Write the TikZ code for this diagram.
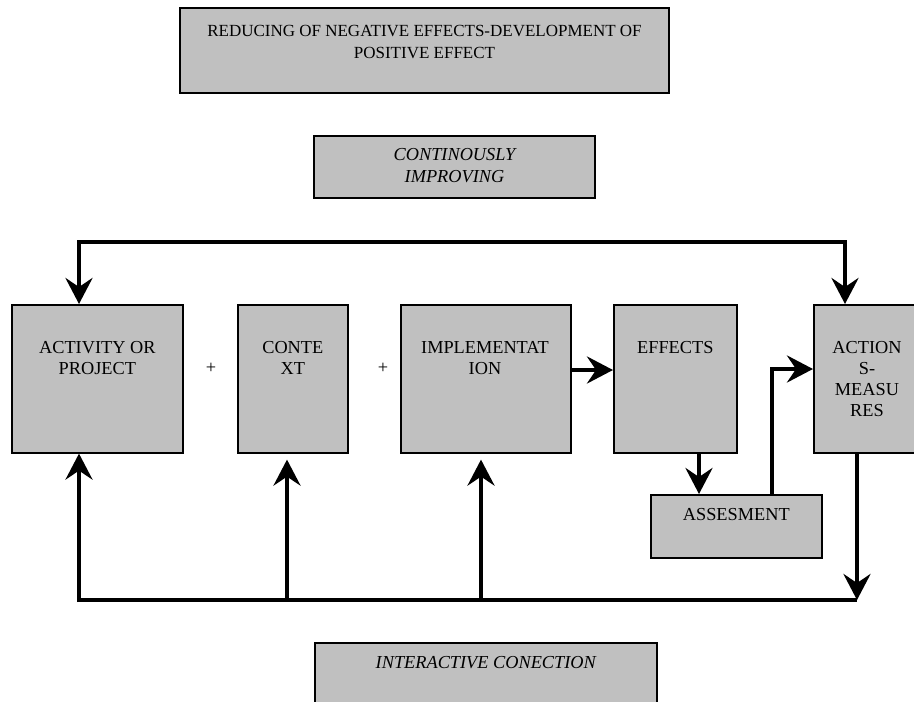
\documentclass[tikz,border=0pt]{standalone}
\usepackage{fontspec}
\setmainfont{Liberation Serif}
\usetikzlibrary{arrows.meta,calc}
\definecolor{boxgray}{HTML}{C0C0C0}
\tikzset{
  gbox/.style={draw=black, line width=1.6pt, fill=boxgray},
  lbl/.style={anchor=base, align=center, inner sep=0pt, font=\fontsize{18.3}{21}\selectfont},
  ilbl/.style={lbl, font=\fontsize{18.3}{22}\selectfont\itshape},
  tlbl/.style={lbl, font=\fontsize{17}{22}\selectfont},
  conn/.style={line width=4pt, line cap=butt, line join=miter},
  arr/.style={conn, -{Stealth[length=26pt, width=27pt, inset=9pt]}}
}
\begin{document}
\begin{tikzpicture}[x=1pt,y=-1pt]
\useasboundingbox (0,0) rectangle (914,702);
% boxes
\draw[gbox] (180,8) rectangle (669,93);
\node[tlbl] (ttl) at (424.5,58) {REDUCING OF NEGATIVE EFFECTS-DEVELOPMENT OF\\POSITIVE EFFECT};
\draw[gbox] (314,136) rectangle (595,198);
\node[ilbl] (cimp) at (454.5,182) {CONTINOUSLY\\IMPROVING};

\node[gbox, minimum width=171pt, minimum height=148pt, anchor=north west, inner sep=0pt] (act) at (11,304) {};
\node[gbox, minimum width=110pt, minimum height=148pt, anchor=north west, inner sep=0pt] (ctx) at (237,304) {};
\node[gbox, minimum width=170pt, minimum height=148pt, anchor=north west, inner sep=0pt] (imp) at (400,304) {};
\node[gbox, minimum width=123pt, minimum height=148pt, anchor=north west, inner sep=0pt] (eff) at (613,304) {};
\node[gbox, minimum width=110pt, minimum height=148pt, anchor=north west, inner sep=0pt] (acm) at (813,304) {};
\node[gbox, minimum width=171pt, minimum height=63pt, anchor=north west, inner sep=0pt] (ass) at (650,494) {};
\node[gbox, minimum width=342pt, minimum height=80pt, anchor=north west, inner sep=0pt] (inter) at (314,642) {};

\node[lbl] (tact) at (act.north |- 0,374) {ACTIVITY OR\\PROJECT};
\node[lbl] (tctx) at (ctx.north |- 0,374) {CONTE\\XT};
\node[lbl] (timp) at (485,374) {IMPLEMENTAT\\ION};
\node[lbl] (teff) at (eff.north |- 0,353) {EFFECTS};
\node[lbl] (tacm) at (867,416) {ACTION\\S-\\MEASU\\RES};
\node[lbl] (tass) at (ass.north |- 0,520) {ASSESMENT};
\node[ilbl] (tint) at (inter.north |- 0,668) {INTERACTIVE CONECTION};
\node[lbl, anchor=center] (p1) at (211,368) {+};
\node[lbl, anchor=center] (p2) at (383,368) {+};

% connectors
\coordinate (tl) at (79,242);
\coordinate (tr) at (845,242);
\coordinate (bl) at (79,600);
\coordinate (bc) at (287,600);
\coordinate (bi) at (481,600);
\coordinate (br) at (857,600);
\coordinate (ma) at (772,369);
\draw[conn] (tl |- act.north) ++(0,-20) -- (tl) -- (tr) -- ++(0,20);
\draw[arr] (tl) -- (tl |- act.north);
\draw[arr] (tr) -- (tr |- acm.north);
\draw[arr] (imp.east |- 0,370) -- (eff.west |- 0,370);
\draw[arr] (699,452) coordinate (es) -- (es |- ass.north);
\draw[conn] (ma |- ass.north) -- (ma);
\draw[arr] ($(ma)+(-2,0)$) -- (acm.west |- ma);
\draw[arr] (br |- acm.south) -- (br);
\draw[conn] ($(bl)+(-2,0)$) -- ($(br)+(0,0)$);
\draw[arr] ($(bl)+(0,2)$) -- (bl |- act.south);
\draw[arr] (bc) -- ($(bc |- ctx.south)+(0,6)$);
\draw[arr] (bi) -- ($(bi |- imp.south)+(0,6)$);
\end{tikzpicture}
\end{document}
